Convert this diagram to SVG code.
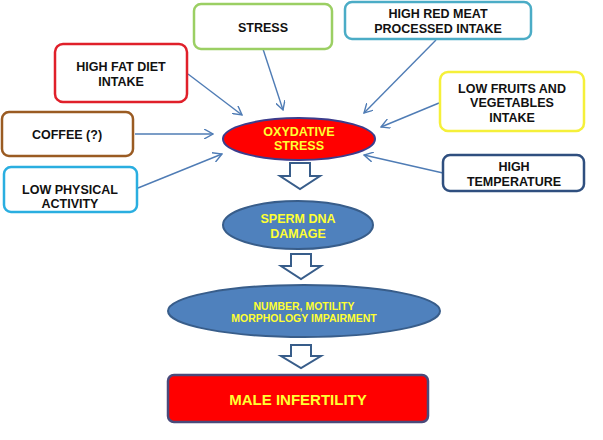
<svg xmlns="http://www.w3.org/2000/svg" width="603" height="440" viewBox="0 0 603 440">
<defs>
<style>
.box{fill:#fff;stroke-width:2.5}
.t{font-family:"Liberation Sans",Arial,sans-serif;font-weight:bold;font-size:12.5px;fill:#111;text-anchor:middle}
.y{fill:#ffff33}
.con{stroke:#4f7cb5;stroke-width:1.4;fill:none;marker-end:url(#ah)}
.blk{fill:#fff;stroke:#385d8a;stroke-width:2}
.bell{fill:#4f81bd;stroke:#385d8a;stroke-width:2}
</style>
<marker id="ah" viewBox="0 0 10 10" refX="9" refY="5" markerWidth="10" markerHeight="10" markerUnits="userSpaceOnUse" orient="auto">
<path d="M0,0 L9,5 L0,10" fill="none" stroke="#4f7cb5" stroke-width="1.4"/>
</marker>
</defs>
<rect width="603" height="440" fill="#fff"/>
<g id="connectors">
<line class="con" x1="188" y1="74" x2="242" y2="115"/>
<line class="con" x1="263" y1="49" x2="283" y2="110"/>
<line class="con" x1="135" y1="134" x2="213" y2="134"/>
<line class="con" x1="138" y1="188" x2="222" y2="154"/>
<line class="con" x1="436" y1="40" x2="364" y2="113"/>
<line class="con" x1="439" y1="103" x2="381" y2="127"/>
<line class="con" x1="443" y1="173" x2="364" y2="155"/>
<path class="blk" d="M290,163 L310,163 L310,176 L320,176 L300,189 L280,176 L290,176 Z"/>
<path class="blk" d="M291,254 L311,254 L311,266 L321,266 L301,279 L281,266 L291,266 Z"/>
<path class="blk" d="M291,345 L311,345 L311,356 L321,356 L301,368 L281,356 L291,356 Z"/>
</g>
<g id="stress">
<rect class="box" x="194" y="4" width="138" height="45" rx="7" stroke="#9bcf63"/>
<text class="t" x="263" y="31.5">STRESS</text>
</g>
<g id="highfat">
<rect class="box" x="55" y="44" width="132" height="58" rx="8" stroke="#e0202a"/>
<text class="t" x="121" y="70.5">HIGH FAT DIET</text>
<text class="t" x="121" y="85.5">INTAKE</text>
</g>
<g id="coffee">
<rect class="box" x="2" y="112" width="131" height="44" rx="7" stroke="#9a5b22"/>
<text class="t" x="67" y="138.5">COFFEE (?)</text>
</g>
<g id="lowphys">
<rect class="box" x="4" y="167" width="133" height="45" rx="7" stroke="#2aaee0"/>
<text class="t" x="70" y="193.5">LOW PHYSICAL</text>
<text class="t" x="70" y="207.5">ACTIVITY</text>
</g>
<g id="redmeat">
<rect class="box" x="345" y="2" width="186" height="37" rx="7" stroke="#4bacc6"/>
<text class="t" x="438" y="17.5">HIGH RED MEAT</text>
<text class="t" x="438" y="32.5">PROCESSED INTAKE</text>
</g>
<g id="lowfruits">
<rect class="box" x="440" y="72" width="144" height="59" rx="8" stroke="#f5f03a"/>
<text class="t" x="512" y="92.5">LOW FRUITS AND</text>
<text class="t" x="512" y="106.5">VEGETABLES</text>
<text class="t" x="512" y="121.5">INTAKE</text>
</g>
<g id="hightemp">
<rect class="box" x="443" y="155" width="141" height="36" rx="7" stroke="#2f4f7f"/>
<text class="t" x="514" y="170.5">HIGH</text>
<text class="t" x="514" y="185.5">TEMPERATURE</text>
</g>
<g id="oxydative">
<ellipse cx="299" cy="139" rx="76" ry="21" fill="#ff0000" stroke="#3c3c8c" stroke-width="2"/>
<text class="t y" x="299" y="136">OXYDATIVE</text>
<text class="t y" x="299" y="150">STRESS</text>
</g>
<g id="spermdna">
<ellipse class="bell" cx="298" cy="225" rx="75" ry="24"/>
<text class="t y" x="298" y="222.5">SPERM DNA</text>
<text class="t y" x="298" y="237.5">DAMAGE</text>
</g>
<g id="number">
<ellipse class="bell" cx="304" cy="311" rx="136" ry="26"/>
<text class="t y" x="304" y="310" style="font-size:10.5px">NUMBER, MOTILITY</text>
<text class="t y" x="304" y="322" style="font-size:10.5px">MORPHOLOGY IMPAIRMENT</text>
</g>
<g id="infertility">
<rect x="168" y="375" width="260" height="47" rx="6" fill="#ff0000" stroke="#4a4a7a" stroke-width="2.5"/>
<text class="t y" x="298" y="404.5" style="font-size:15px">MALE INFERTILITY</text>
</g>
</svg>
